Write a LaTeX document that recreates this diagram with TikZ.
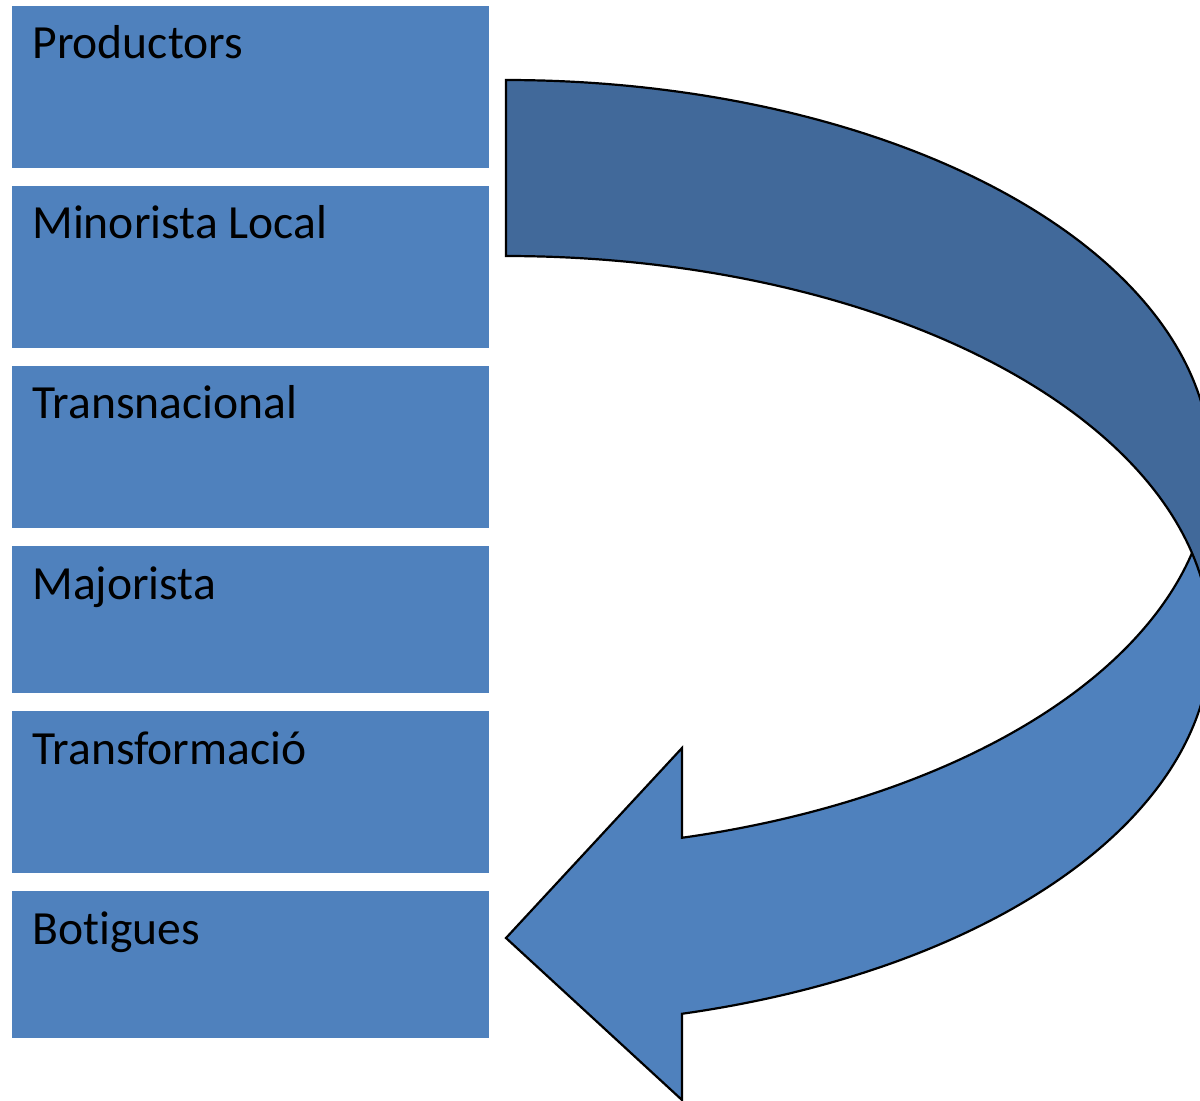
\documentclass[tikz,border=0pt]{standalone}
\usepackage{fontspec}
\setmainfont[Ligatures={NoCommon}]{Carlito}
\definecolor{boxblue}{HTML}{4F81BD}
\definecolor{backblue}{HTML}{41699A}
\begin{document}
\begin{tikzpicture}[x=0.5pt,y=-0.5pt,
  box/.style={draw=none, fill=boxblue, rectangle, anchor=north west, inner sep=0pt, minimum width=238.5pt},
  lbl/.style={anchor=base west, inner sep=0pt, text=black, font=\fontsize{23.8}{28}\selectfont},
  arrowpart/.style={draw=black, line width=1.1pt, line join=miter}]
\useasboundingbox (0,0) rectangle (1200,1101);
\clip (0,0) rectangle (1200,1101);
% boxes
\node[box, minimum height=81pt]   (b1) at (12,6)   {};
\node[box, minimum height=81pt]   (b2) at (12,186) {};
\node[box, minimum height=81pt]   (b3) at (12,366) {};
\node[box, minimum height=73.5pt] (b4) at (12,546) {};
\node[box, minimum height=81pt]   (b5) at (12,711) {};
\node[box, minimum height=73.5pt] (b6) at (12,891) {};
% labels
\node[lbl] (t1) at (32,59)  {Productors};
\node[lbl] (t2) at (32,239) {Minorista Local};
\node[lbl] (t3) at (32,419) {Transnacional};
\node[lbl] (t4) at (32,599) {Majorista};
\node[lbl] (t5) at (32,764) {Transformació};
\node[lbl] (t6) at (32,944) {Botigues};
% curved arrow: front (light) part
\path[arrowpart, fill=boxblue]
  plot[domain=75.54:0, samples=90] ({506+704.7*cos(\x)}, {641+385*sin(\x)})
  -- plot[domain=0:75.54, samples=90] ({506+704.7*cos(\x)}, {465+385*sin(\x)})
  -- (682,748) -- (506,938) -- (682,1100) -- cycle;
% curved arrow: back (dark) part
\path[arrowpart, fill=backblue]
  plot[domain=-90:0, samples=90] ({506+704.7*cos(\x)}, {465+385*sin(\x)})
  -- (1210.7,641)
  -- plot[domain=0:-90, samples=90] ({506+704.7*cos(\x)}, {641+385*sin(\x)})
  -- cycle;
\end{tikzpicture}
\end{document}
